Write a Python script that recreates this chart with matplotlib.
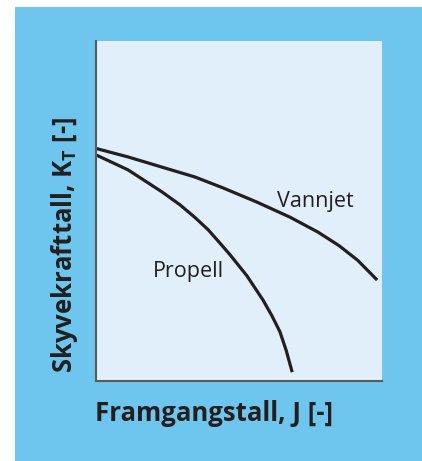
import matplotlib
matplotlib.use("Agg")
import matplotlib.pyplot as plt
from matplotlib.patches import Rectangle

plt.rcParams["font.family"] = ["Open Sans", "DejaVu Sans"]
plt.rcParams["mathtext.fontset"] = "custom"
plt.rcParams["mathtext.rm"] = "Open Sans"
plt.rcParams["mathtext.bf"] = "Open Sans:bold"

# curves (axes run 0..1 on both sides)
vannjet_j = [0.0, 0.112, 0.231, 0.346, 0.444, 0.563, 0.678, 0.776, 0.850, 0.915, 0.983]
vannjet_kt = [0.684, 0.659, 0.629, 0.600, 0.568, 0.526, 0.482, 0.438, 0.398, 0.355, 0.297]

propell_j = [0.0, 0.112, 0.231, 0.294, 0.346, 0.392, 0.434, 0.469, 0.528, 0.584, 0.615, 0.643, 0.665, 0.686]
propell_kt = [0.665, 0.621, 0.556, 0.518, 0.481, 0.445, 0.405, 0.371, 0.309, 0.238, 0.192, 0.145, 0.090, 0.026]

W, H = 422, 461
fig = plt.figure(figsize=(W / 100, H / 100), dpi=100)
fig.patch.set_facecolor("white")
fig.patches.append(Rectangle((15 / W, 0), 407 / W, 454 / H, transform=fig.transFigure,
                             facecolor="#6EC6EE", edgecolor="none", zorder=-5))

ax = fig.add_axes([96 / W, 80 / H, 286 / W, 340 / H])
ax.set_facecolor("#E1EFFA")
for j, kt in [(vannjet_j, vannjet_kt), (propell_j, propell_kt)]:
    ax.plot(j, kt, color="#231F20", lw=2.3, solid_capstyle="butt", solid_joinstyle="round")
ax.set_xlim(0, 1)
ax.set_ylim(0, 1)
ax.set_xticks([])
ax.set_yticks([])
for s in ["top", "right"]:
    ax.spines[s].set_visible(False)
for s in ["left", "bottom"]:
    ax.spines[s].set_color("#5A5A5A")
    ax.spines[s].set_linewidth(1.5)

ax.text(0.633, 0.511, "Vannjet", fontsize=15.5, color="#231F20")
ax.text(0.199, 0.305, "Propell", fontsize=15.5, color="#231F20")

fig.text(214 / W, 1 - 413 / H, "Framgangstall, J [-]", fontsize=18.5, fontweight="bold",
         color="#231F20", ha="center", va="center")
fig.text(65 / W, 1 - 245 / H, r"Skyvekrafttall, K$_\mathbf{T}$ [-]", fontsize=18.5,
         fontweight="bold", color="#231F20", rotation=90, ha="center", va="center")

fig.savefig("out.png", dpi=100)
